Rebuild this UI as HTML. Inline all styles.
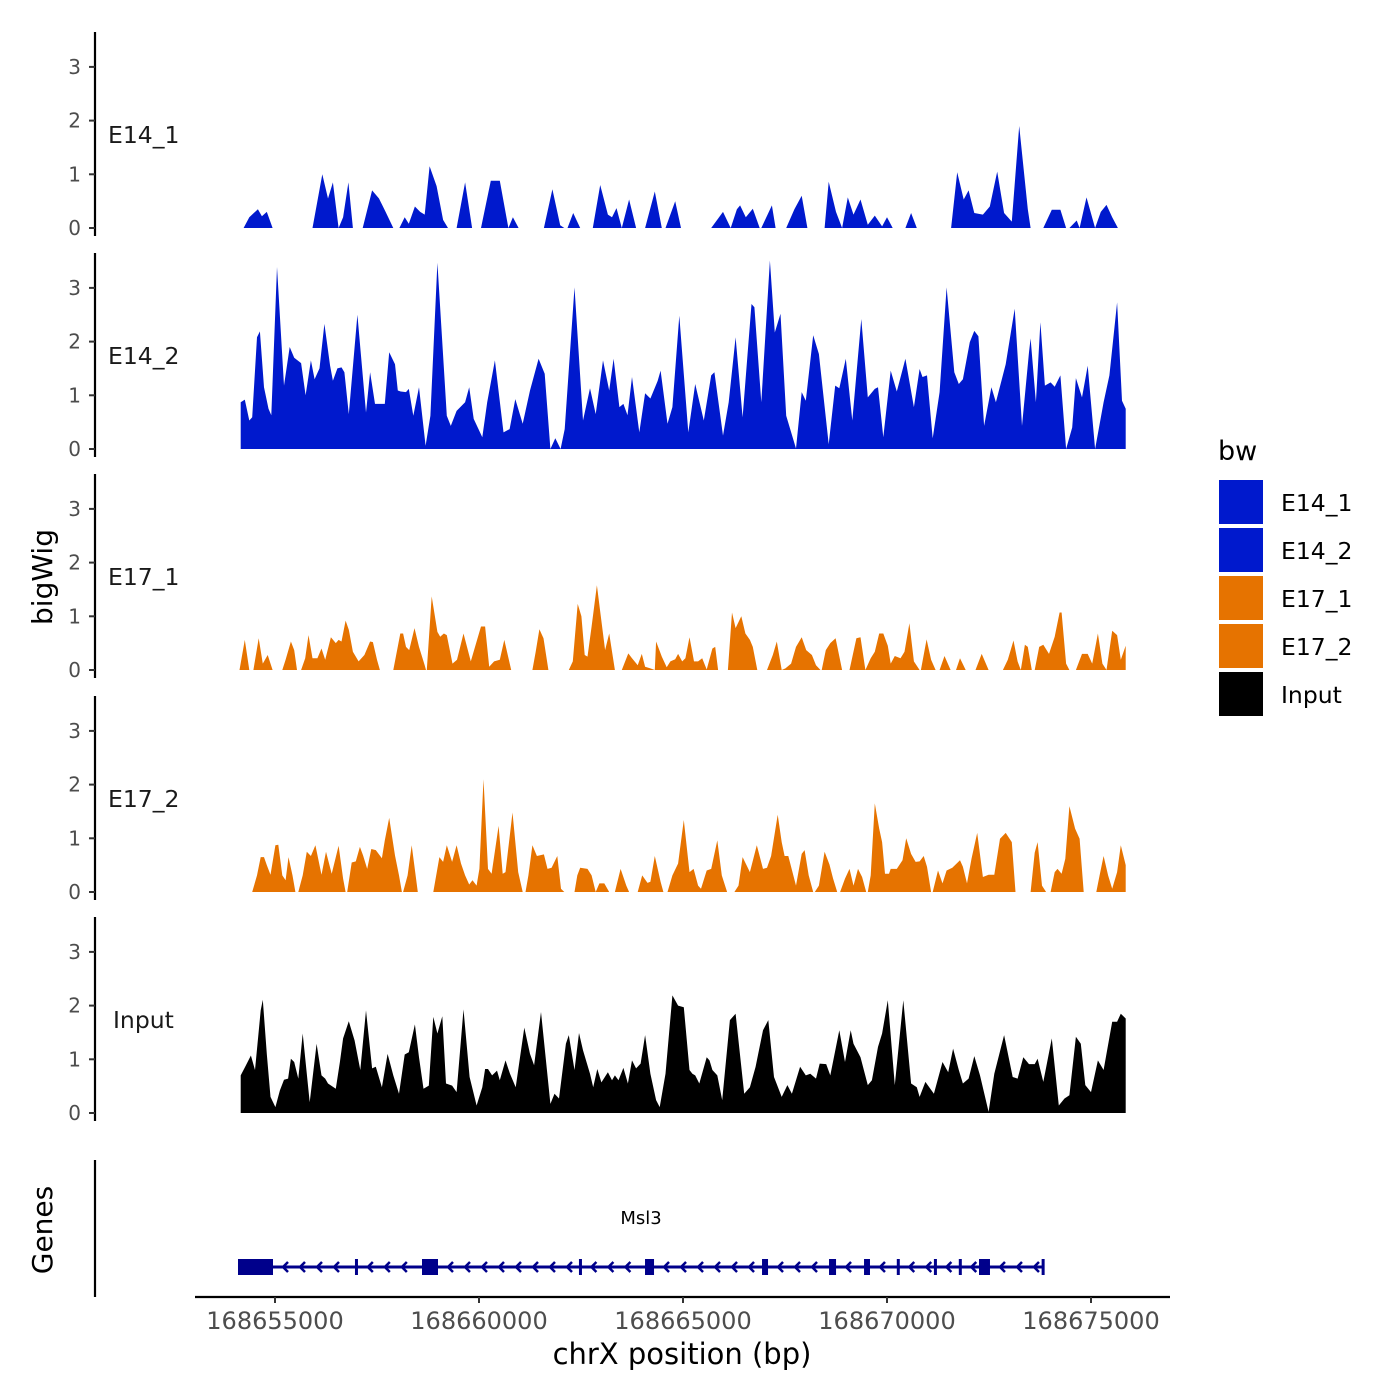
<!DOCTYPE html>
<html><head><meta charset="utf-8"><style>
html,body{margin:0;padding:0;background:#fff}
svg{display:block;font-family:"DejaVu Sans","Liberation Sans",sans-serif}
</style></head><body>
<svg id="chart" width="1400" height="1400" viewBox="0 0 1400 1400" xmlns="http://www.w3.org/2000/svg">
<rect width="1400" height="1400" fill="#fff"/>
<g id="tracks"></g>
<g id="genes"></g>
<g id="axes"></g>
<text x="52" y="577" font-size="28" text-anchor="middle" transform="rotate(-90 52 577)">bigWig</text>
<text x="52" y="1230" font-size="28" text-anchor="middle" transform="rotate(-90 52 1230)">Genes</text>
<text x="682" y="1364" font-size="29" text-anchor="middle">chrX position (bp)</text>
<g>
<text x="1218" y="460" font-size="27">bw</text>
<rect x="1219" y="480" width="44" height="44" fill="#0019CD"/>
<rect x="1219" y="528" width="44" height="44" fill="#0019CD"/>
<rect x="1219" y="576" width="44" height="44" fill="#E67300"/>
<rect x="1219" y="624" width="44" height="44" fill="#E67300"/>
<rect x="1219" y="672" width="44" height="44" fill="#000"/>
<text x="1281" y="511" font-size="23.5">E14_1</text>
<text x="1281" y="559" font-size="23.5">E14_2</text>
<text x="1281" y="607" font-size="23.5">E17_1</text>
<text x="1281" y="655" font-size="23.5">E17_2</text>
<text x="1281" y="703" font-size="23.5">Input</text>
</g>
</svg>
<script>
const regionStartKb = 168654.02;
const trackNames = ["E14_1","E14_2","E17_1","E17_2","Input"];
const trackColors = ["#0019CD","#0019CD","#E67300","#E67300","#000000"];
const yTicks = [0,1,2,3];
const xTicks = [168655000,168660000,168665000,168670000,168675000];
const xTickLabels = ["168655000","168660000","168665000","168670000","168675000"];

const posE14_1 = [0.21,0.35,0.56,0.66,0.78,0.92,1.90,2.14,2.28,2.40,2.54,2.65,2.78,2.89,3.13,3.36,3.53,3.69,3.88,4.03,4.16,4.26,4.41,4.54,4.65,4.77,4.94,5.10,5.22,5.43,5.64,5.81,6.03,6.27,6.49,6.70,6.81,6.95,7.57,7.78,7.97,8.07,8.15,8.29,8.46,8.77,8.95,9.14,9.24,9.35,9.48,9.66,9.83,10.05,10.29,10.46,10.55,10.79,10.93,11.67,11.96,12.15,12.30,12.38,12.52,12.69,12.86,12.90,13.16,13.25,13.51,13.71,13.89,14.03,14.45,14.55,14.73,14.88,15.02,15.16,15.33,15.51,15.68,15.86,15.98,16.12,16.43,16.57,16.71,17.55,17.70,17.86,17.98,18.12,18.33,18.50,18.68,18.85,19.04,19.22,19.43,19.50,19.81,20.02,20.23,20.37,20.45,20.63,20.70,20.87,21.08,21.22,21.36,21.50,21.64];
const valE14_1 = [0,0.2,0.35,0.22,0.3,0,0,1.0,0.55,0.85,0,0.2,0.85,0,0,0.7,0.55,0.3,0,0,0.2,0.08,0.4,0.3,0.25,1.15,0.78,0.15,0,0,0.85,0,0,0.88,0.88,0,0.2,0,0,0.72,0.05,0,0,0.28,0,0,0.8,0.25,0.2,0.37,0,0.53,0,0,0.68,0,0,0.5,0,0,0.3,0,0.35,0.42,0.2,0.36,0,0,0.42,0,0,0.35,0.6,0,0,0.86,0.3,0,0.57,0.25,0.53,0.06,0.23,0.03,0.2,0,0,0.28,0,0,1.04,0.53,0.7,0.28,0.25,0.4,1.05,0.28,0.12,1.9,0.35,0,0,0.34,0.34,0,0,0.14,0,0.57,0,0.3,0.43,0.2,0];

const posE14_2 = [0.14,0.24,0.35,0.42,0.54,0.61,0.71,0.82,0.89,1.03,1.20,1.34,1.45,1.62,1.73,1.86,1.95,2.07,2.19,2.33,2.40,2.51,2.61,2.68,2.79,3.00,3.21,3.31,3.43,3.67,3.78,3.92,3.99,4.06,4.19,4.26,4.37,4.51,4.67,4.79,4.96,5.19,5.29,5.43,5.64,5.74,5.85,6.06,6.18,6.37,6.58,6.73,6.87,7.05,7.23,7.44,7.59,7.73,7.85,7.98,8.08,8.32,8.53,8.70,8.84,9.02,9.17,9.28,9.42,9.52,9.62,9.73,9.91,10.05,10.18,10.36,10.43,10.60,10.72,10.89,11.11,11.28,11.49,11.67,11.75,11.96,12.10,12.27,12.44,12.66,12.73,12.90,13.11,13.23,13.37,13.51,13.75,13.89,13.99,14.17,14.31,14.55,14.71,14.81,14.97,15.13,15.35,15.51,15.68,15.76,15.89,16.07,16.22,16.43,16.64,16.78,16.85,16.96,17.10,17.27,17.44,17.63,17.74,17.84,18.01,18.12,18.22,18.36,18.54,18.65,18.89,19.11,19.29,19.46,19.50,19.63,19.74,19.85,19.99,20.09,20.23,20.37,20.52,20.61,20.76,20.90,21.08,21.29,21.43,21.62,21.74,21.83];
const valE14_2 = [0.87,0.92,0.53,0.59,2.08,2.19,1.15,0.75,0.63,3.39,1.18,1.9,1.7,1.6,1.0,1.65,1.3,1.5,2.33,1.55,1.27,1.5,1.52,1.43,0.65,2.5,0.68,1.43,0.84,0.84,1.8,1.58,1.09,1.07,1.06,1.12,0.62,1.15,0.06,0.62,3.47,0.62,0.43,0.71,0.87,1.15,0.56,0.22,0.87,1.65,0.31,0.37,0.93,0.47,1.09,1.68,1.4,0,0.2,0,0.37,3.01,0.53,1.13,0.65,1.65,1.09,1.68,0.78,0.84,0.63,1.34,0.31,1.04,0.94,1.27,1.46,0.47,0.78,2.48,0.31,1.21,0.53,1.37,1.43,0.25,0.87,2.08,0.59,2.7,2.64,0.87,3.51,2.17,2.52,0.62,0.01,1.06,0.9,2.12,1.77,0.09,1.18,1.13,1.68,0.53,2.42,0.96,1.12,1.15,0.22,1.46,1.07,1.68,0.78,1.49,1.34,1.37,0.2,1.06,3.01,1.43,1.21,1.3,1.99,2.2,2.1,0.43,1.15,0.87,1.58,2.61,0.43,1.8,2.06,0.87,2.36,1.18,1.24,1.16,1.37,0,0.4,1.32,0.96,1.55,0,0.87,1.37,2.73,0.9,0.75];

const posE17_1 = [0.11,0.24,0.35,0.45,0.58,0.68,0.80,0.92,1.16,1.24,1.37,1.45,1.52,1.62,1.72,1.80,1.90,2.02,2.12,2.21,2.35,2.47,2.54,2.61,2.71,2.79,2.89,3.03,3.17,3.31,3.38,3.48,3.55,3.88,4.05,4.12,4.19,4.27,4.40,4.51,4.65,4.68,4.70,4.82,4.96,5.03,5.12,5.19,5.33,5.44,5.60,5.78,5.92,6.03,6.13,6.23,6.35,6.49,6.60,6.77,7.29,7.37,7.46,7.56,7.68,8.18,8.28,8.40,8.49,8.57,8.64,8.74,8.87,8.95,9.07,9.17,9.31,9.48,9.64,9.73,9.87,9.97,10.05,10.18,10.29,10.32,10.46,10.58,10.67,10.79,10.86,10.96,11.04,11.14,11.25,11.35,11.45,11.56,11.70,11.77,11.84,12.08,12.18,12.27,12.41,12.51,12.62,12.69,12.80,13.04,13.18,13.28,13.40,13.49,13.63,13.75,13.89,14.00,14.14,14.24,14.35,14.38,14.48,14.59,14.72,14.88,15.06,15.23,15.33,15.45,15.58,15.68,15.79,15.89,16.00,16.07,16.17,16.31,16.41,16.53,16.64,16.78,16.81,16.95,17.06,17.17,17.27,17.39,17.54,17.67,17.77,17.91,18.15,18.30,18.47,18.82,18.94,19.08,19.18,19.26,19.36,19.43,19.53,19.60,19.71,19.81,19.95,20.09,20.21,20.26,20.37,20.45,20.61,20.76,20.90,21.01,21.15,21.26,21.36,21.50,21.62,21.71,21.83];
const valE17_1 = [0,0.56,0,0,0.59,0.12,0.28,0,0,0.19,0.53,0.37,0,0,0.22,0.65,0.22,0.22,0.40,0.19,0.61,0.50,0.56,0.53,0.92,0.75,0.34,0.16,0.28,0.53,0.52,0.19,0,0,0.68,0.68,0.43,0.37,0.78,0.43,0.09,0,0,1.37,0.71,0.62,0.68,0.65,0.12,0.19,0.68,0.16,0.53,0.81,0.81,0.06,0.16,0.19,0.56,0,0,0.34,0.76,0.59,0,0,0.16,1.23,1.0,0.28,0.25,0.81,1.58,1.09,0.37,0.68,0,0,0.31,0.22,0.09,0.30,0.06,0.03,0,0.53,0.25,0.05,0.16,0.20,0.30,0.16,0.22,0.61,0.16,0.16,0.22,0.01,0.40,0.43,0,0,1.07,0.78,1.0,0.68,0.56,0.43,0,0,0.28,0.53,0,0.03,0.12,0.43,0.61,0.37,0.28,0.09,0,0,0.37,0.50,0.59,0,0,0.59,0.61,0,0.22,0.34,0.68,0.68,0.45,0.12,0.26,0.22,0.34,0.87,0.16,0,0,0.57,0.19,0,0,0.26,0,0,0.22,0,0,0.30,0,0,0.19,0.55,0.16,0,0.47,0.43,0,0,0.43,0.47,0.30,0.62,1.07,1.07,0.12,0,0,0.30,0.30,0.12,0.68,0.12,0,0.73,0.65,0.19,0.45];

const posE17_2 = [0.42,0.54,0.63,0.71,0.78,0.87,0.99,1.06,1.16,1.24,1.31,1.41,1.48,1.55,1.66,1.76,1.86,1.97,2.12,2.23,2.37,2.54,2.65,2.71,2.75,2.86,2.96,3.06,3.14,3.24,3.34,3.45,3.60,3.67,3.78,3.92,4.02,4.09,4.12,4.23,4.33,4.48,4.86,5.01,5.10,5.19,5.32,5.43,5.54,5.64,5.74,5.82,5.92,5.99,6.09,6.20,6.29,6.46,6.56,6.63,6.80,6.94,7.05,7.12,7.19,7.29,7.40,7.57,7.66,7.76,7.90,7.99,8.07,8.32,8.39,8.46,8.64,8.74,8.84,8.93,9.05,9.17,9.31,9.45,9.59,9.66,9.87,9.98,10.11,10.18,10.29,10.43,10.50,10.60,10.72,10.86,11.00,11.14,11.24,11.35,11.42,11.56,11.67,11.82,11.93,12.06,12.24,12.34,12.44,12.62,12.79,12.94,13.04,13.14,13.30,13.40,13.47,13.56,13.75,13.89,13.96,14.06,14.17,14.21,14.31,14.45,14.57,14.66,14.76,14.83,14.95,15.06,15.16,15.27,15.37,15.47,15.51,15.58,15.68,15.79,15.86,15.93,16.03,16.07,16.22,16.36,16.45,16.57,16.68,16.78,16.88,16.96,17.06,17.10,17.23,17.34,17.44,17.58,17.77,17.84,17.94,18.05,18.19,18.33,18.47,18.61,18.75,18.89,19.04,19.13,19.50,19.60,19.67,19.78,19.88,19.99,20.09,20.16,20.26,20.35,20.45,20.59,20.70,20.80,21.11,21.19,21.29,21.40,21.50,21.62,21.71,21.83];
const valE17_2 = [0,0.31,0.65,0.65,0.50,0.32,0.87,0.88,0.31,0.22,0.65,0.31,0,0,0.31,0.75,0.67,0.87,0.32,0.75,0.34,0.86,0.25,0,0,0.55,0.57,0.84,0.68,0.43,0.80,0.78,0.63,0.96,1.38,0.68,0.31,0,0,0.31,0.87,0,0,0.65,0.56,0.87,0.56,0.87,0.53,0.31,0.14,0.22,0.12,0.43,2.1,0.43,0.34,1.23,0.34,0.37,1.48,0.37,0,0,0.31,0.87,0.67,0.70,0.43,0.45,0.67,0.06,0,0,0.31,0.45,0.43,0.31,0,0.16,0.16,0,0,0.43,0.12,0,0,0.31,0.17,0.19,0.67,0.19,0,0,0.31,0.53,1.34,0.37,0.43,0.12,0.06,0.40,0.43,0.96,0.31,0,0,0.12,0.65,0.37,0.87,0.43,0.45,0.67,1.44,0.93,0.67,0.67,0.12,0.71,0.78,0.31,0,0,0.12,0.75,0.51,0.25,0,0,0.25,0.43,0.12,0.43,0.28,0,0,0.31,1.65,1.18,0.93,0.34,0.34,0.43,0.43,0.59,1.0,0.71,0.56,0.57,0.67,0.47,0,0,0.40,0.16,0.40,0.45,0.59,0.47,0.16,0.62,1.10,0.28,0.32,0.32,0.99,1.10,0.93,0,0,0.73,0.93,0.12,0,0,0.37,0.43,0.34,0.62,1.6,1.18,0.99,0,0,0.31,0.67,0.31,0.06,0.37,0.87,0.50];

const posInput = [0.14,0.25,0.39,0.49,0.63,0.68,0.78,0.87,0.99,1.10,1.20,1.30,1.37,1.45,1.55,1.66,1.83,2.00,2.12,2.21,2.28,2.47,2.57,2.65,2.79,2.93,3.07,3.21,3.36,3.45,3.60,3.74,3.88,4.02,4.16,4.26,4.41,4.51,4.62,4.75,4.86,4.96,5.08,5.17,5.32,5.43,5.60,5.75,5.92,6.06,6.13,6.20,6.30,6.42,6.49,6.63,6.74,6.88,7.09,7.23,7.33,7.50,7.73,7.83,7.94,8.11,8.18,8.32,8.43,8.53,8.70,8.78,8.88,8.98,9.14,9.24,9.31,9.40,9.52,9.63,9.73,9.83,9.94,10.05,10.18,10.32,10.41,10.55,10.72,10.86,11.00,11.14,11.21,11.28,11.38,11.56,11.63,11.70,11.82,11.94,12.13,12.27,12.48,12.62,12.76,12.94,13.07,13.21,13.40,13.54,13.65,13.85,13.99,14.10,14.24,14.33,14.49,14.59,14.81,14.95,15.09,15.16,15.33,15.51,15.61,15.76,15.86,16.00,16.17,16.38,16.57,16.71,16.78,16.92,17.13,17.34,17.48,17.60,17.74,17.84,17.98,18.12,18.26,18.47,18.61,18.85,19.06,19.18,19.32,19.46,19.60,19.67,19.81,20.02,20.19,20.33,20.45,20.61,20.73,20.84,20.98,21.15,21.29,21.50,21.62,21.71,21.83];
const valInput = [0.70,0.86,1.07,0.80,1.91,2.11,1.10,0.30,0.11,0.42,0.62,0.64,1.01,0.95,0.64,1.48,0.20,1.29,0.70,0.64,0.55,0.45,0.95,1.39,1.71,1.35,0.80,1.91,0.83,0.86,0.48,1.10,0.70,0.36,1.09,1.13,1.65,1.04,0.45,0.51,1.79,1.48,1.80,0.55,0.51,0.39,1.93,0.67,0.14,0.48,0.82,0.82,0.70,0.79,0.61,0.98,0.73,0.48,1.59,1.10,0.89,1.88,0.17,0.36,0.27,1.29,1.45,0.80,1.49,1.17,0.73,0.48,0.82,0.57,0.76,0.61,0.70,0.61,0.84,0.55,0.98,0.83,0.92,1.45,0.73,0.24,0.11,0.73,2.19,2.0,1.97,0.80,0.73,0.70,0.55,1.04,0.98,0.80,0.70,0.24,1.73,1.85,0.36,0.48,0.86,1.54,1.73,0.67,0.30,0.52,0.36,0.86,0.70,0.73,0.64,0.92,0.91,0.70,1.54,0.95,1.54,1.29,1.04,0.52,0.61,1.23,1.48,2.10,0.52,2.10,0.55,0.48,0.30,0.58,0.36,0.95,0.76,1.20,0.80,0.55,0.64,1.06,0.70,0.02,0.73,1.45,0.67,0.64,1.04,0.91,0.91,1.01,0.58,1.39,0.14,0.27,0.33,1.42,1.29,0.52,0.39,0.98,0.80,1.70,1.70,1.85,1.76];

const genePos = [168654093,168673823];
const exonStarts = [168654093,168656960,168658603,168662450,168664069,168666937,168668579,168669437,168670240,168671150,168671760,168672255,168673790];
const exonEnds =   [168654951,168657030,168658995,168662510,168664290,168667084,168668751,168669583,168670300,168671210,168671820,168672524,168673850];

const NS = "http://www.w3.org/2000/svg";
const xPx = bp => 275 + (bp - 168655000) * 204 / 5000;
const zeroY = [228,449,670,892,1113];
const unit = 53.7;
function mk(tag, attrs, parent){const e=document.createElementNS(NS,tag);for(const k in attrs)e.setAttribute(k,attrs[k]);parent.appendChild(e);return e;}

const tracks = document.getElementById('tracks');
const axes = document.getElementById('axes');
const seriesPos = [posE14_1,posE14_2,posE17_1,posE17_2,posInput];
const seriesVal = [valE14_1,valE14_2,valE17_1,valE17_2,valInput];
const keys = ["e14-1","e14-2","e17-1","e17-2","input"];
for (let t=0;t<5;t++){
  const y0 = zeroY[t];
  const yv = v => y0 - v*unit;
  const P = seriesPos[t], V = seriesVal[t];
  let d = "M"+xPx((regionStartKb+P[0])*1000).toFixed(1)+","+y0;
  for (let i=0;i<P.length;i++) d += "L"+xPx((regionStartKb+P[i])*1000).toFixed(1)+","+yv(V[i]).toFixed(1);
  d += "L"+xPx((regionStartKb+P[P.length-1])*1000).toFixed(1)+","+y0+"Z";
  const area = mk('path',{d:d,fill:trackColors[t]},tracks);
  
  
  const ax = mk('line',{x1:95,x2:95,y1:y0-196,y2:y0+8,stroke:'#000','stroke-width':2.2},axes);
  
  
  yTicks.forEach(v=>{
    const tk = mk('line',{x1:89,x2:95,y1:yv(v),y2:yv(v),stroke:'#333','stroke-width':2},axes);
    
    
    const tl = mk('text',{x:81,y:yv(v)+7,'font-size':20,'text-anchor':'end',fill:'#4d4d4d'},axes);
    
    
    tl.textContent = v;
  });
  const lab = mk('text',{x:t===4?113:108,y:y0-85,'font-size':23.5,fill:'#1a1a1a'},axes);
  
  
  lab.textContent = trackNames[t];
}

// gene track
const g = document.getElementById('genes');
const gl = mk('line',{x1:95,x2:95,y1:1160,y2:1297,stroke:'#000','stroke-width':2.2},axes);


const gy = 1267;
const intron = mk('line',{x1:xPx(genePos[0]),x2:xPx(genePos[1]),y1:gy,y2:gy,stroke:'#00008B','stroke-width':3},g);


for (let i=0;i<exonStarts.length-1;i++){
  const a = xPx(exonEnds[i])+10, b = xPx(exonStarts[i+1])-6;
  for (let x=a; x<b; x+=17){
    const ch = mk('path',{d:`M${x+5},${gy-5}L${x},${gy}L${x+5},${gy+5}`,fill:'none',stroke:'#00008B','stroke-width':2.5},g);
    
    
  }
}
exonStarts.forEach((s,i)=>{
  const w = Math.max(3, xPx(exonEnds[i])-xPx(s));
  const ex = mk('rect',{x:xPx(s),y:gy-8,width:w,height:16,fill:'#00008B'},g);
  
  
});
const gname = mk('text',{x:641,y:1224,'font-size':18,'text-anchor':'middle',fill:'#000'},g);


gname.textContent = 'Msl3';

// x axis
const xl = mk('line',{x1:195,x2:1170,y1:1297,y2:1297,stroke:'#000','stroke-width':2.2},axes);


xTicks.forEach((v,i)=>{
  const tk = mk('line',{x1:xPx(v),x2:xPx(v),y1:1297,y2:1303,stroke:'#333','stroke-width':2},axes);
  
  
  const tl = mk('text',{x:xPx(v),y:1329,'font-size':24,'text-anchor':'middle',fill:'#4d4d4d'},axes);
  
  
  tl.textContent = xTickLabels[i];
});
</script>
</body></html>
